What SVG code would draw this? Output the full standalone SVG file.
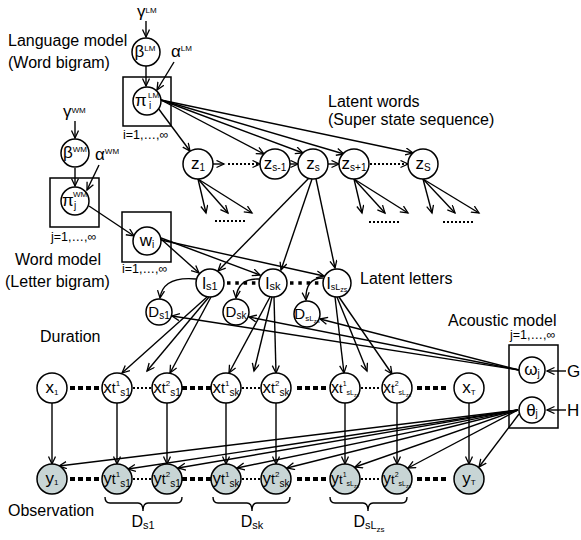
<svg xmlns="http://www.w3.org/2000/svg" width="581" height="540" viewBox="0 0 581 540">
<defs>
<style>
text{font-family:"Liberation Sans",Arial,sans-serif;fill:#000}
.lb{font-size:16px}
.pl{font-size:12.5px}
.n{font-size:17px;text-anchor:middle}
.g{font-size:17px}
.sp{font-size:8px}
.sb{font-size:10px}
.ss{font-size:7px}
.ln{stroke:#000;stroke-width:1.4;fill:none;marker-end:url(#a)}
.pn{stroke:#000;stroke-width:1.4;fill:none}
.nd{fill:#fff;stroke:#000;stroke-width:1.5}
.ob{fill:#c8d5d5;stroke:#000;stroke-width:1.5}
.box{fill:none;stroke:#000;stroke-width:1.5}
.tk{stroke:#000;stroke-width:4;stroke-dasharray:5 3;fill:none}
.tl{stroke:#000;stroke-width:3.5;stroke-dasharray:3.5 4.8;fill:none}
.tn{stroke:#000;stroke-width:2;stroke-dasharray:2 2;fill:none}
.dl{stroke:#000;stroke-width:2;stroke-dasharray:2 2;fill:none;marker-end:url(#a)}
</style>
<marker id="a" markerWidth="10" markerHeight="9" refX="8" refY="4" orient="auto" markerUnits="userSpaceOnUse">
<path d="M0.5,0.5 L8,4 L0.5,7.5" fill="none" stroke="#000" stroke-width="1.3" stroke-dasharray="none"/>
</marker>
</defs>
<rect width="581" height="540" fill="#fff"/>

<g id="labels">
<text class="lb" x="8" y="46">Language model</text>
<text class="lb" x="8" y="68">(Word bigram)</text>
<text class="lb" x="15" y="265">Word model</text>
<text class="lb" x="5" y="287">(Letter bigram)</text>
<text class="lb" x="328" y="107">Latent words</text>
<text class="lb" x="328" y="125">(Super state sequence)</text>
<text class="lb" x="360" y="284">Latent letters</text>
<text class="lb" x="40" y="342">Duration</text>
<text class="lb" x="448" y="326">Acoustic model</text>
<text class="lb" x="8" y="516">Observation</text>
<text class="pl" x="123" y="139">i=1,…,∞</text>
<text class="pl" x="51" y="241">j=1,…,∞</text>
<text class="pl" x="122" y="273">i=1,…,∞</text>
<text class="pl" x="510" y="339">j=1,…,∞</text>
</g>

<g id="plates">
<rect class="box" x="123" y="77" width="48" height="49"/>
<rect class="box" x="50" y="178" width="49" height="49"/>
<rect class="box" x="122" y="212" width="49" height="50"/>
<rect class="box" x="509" y="345" width="49" height="83"/>
</g>

<g id="connectors">
<path class="ln" d="M146,21 L146,37"/>
<path class="ln" d="M146,66 L146,86"/>
<path class="ln" d="M174,62 L157,90"/>
<path class="ln" d="M158,108 L190,151"/>
<path class="ln" d="M161,100 L264,154"/>
<path class="ln" d="M161,100 L303,153"/>
<path class="ln" d="M161,100 L344,154"/>
<path class="ln" d="M161,100 L413,153"/>
<path class="ln" d="M75,121 L75,138"/>
<path class="ln" d="M75,168 L75,186"/>
<path class="ln" d="M99,165 L87,190"/>
<path class="ln" d="M89,206 L134,236"/>
<path class="ln" d="M213,164 L224,164"/>
<path class="dl" d="M228,164 L260,164"/>
<path class="ln" d="M290,164 L298,164"/>
<path class="ln" d="M328,164 L339,164"/>
<path class="dl" d="M370,164 L408,164"/>
<path class="ln" d="M198,179 L206,213"/>
<path class="ln" d="M198,179 L228,213"/>
<path class="ln" d="M198,179 L252,213"/>
<path class="tn" d="M215,221 L246,221"/>
<path class="ln" d="M354,179 L362,213"/>
<path class="ln" d="M354,179 L385,213"/>
<path class="ln" d="M354,179 L408,213"/>
<path class="tn" d="M369,222 L400,222"/>
<path class="ln" d="M423,179 L432,213"/>
<path class="ln" d="M423,179 L455,213"/>
<path class="ln" d="M423,179 L479,213"/>
<path class="tn" d="M443,222 L474,222"/>
<path class="ln" d="M309,178 L218,271"/>
<path class="ln" d="M312,179 L281,270"/>
<path class="ln" d="M316,179 L335,268"/>
<path class="ln" d="M161,239 L199,273"/>
<path class="ln" d="M161,238 L260,275"/>
<path class="ln" d="M161,240 L324,276"/>
<path class="tl" d="M227,283 L258,283"/>
<path class="tl" d="M290,283 L321,283"/>
<path class="ln" d="M196,279 Q163,276 160,298"/>
<path class="ln" d="M259,279 Q238,278 236,298"/>
<path class="ln" d="M323,278 Q305,278 306,300"/>
<path class="ln" d="M519,370 L172,316"/>
<path class="ln" d="M519,370 L249,317"/>
<path class="ln" d="M519,370 L320,319"/>
<path class="ln" d="M207,297 L122,373"/>
<path class="ln" d="M209,297 L147,371"/>
<path class="ln" d="M211,297 L170,373"/>
<path class="ln" d="M270,297 L229,373"/>
<path class="ln" d="M272,297 L254,371"/>
<path class="ln" d="M274,297 L276,373"/>
<path class="ln" d="M335,297 L344,373"/>
<path class="ln" d="M337,297 L367,371"/>
<path class="ln" d="M339,297 L392,374"/>
<path class="tk" d="M70,388 L99,388"/>
<path class="tn" d="M133,388 L151,388"/>
<path class="tk" d="M182,388 L211,388"/>
<path class="tn" d="M242,388 L260,388"/>
<path class="tk" d="M297,388 L326,388"/>
<path class="tn" d="M361,388 L381,388"/>
<path class="tk" d="M417,388 L446,388"/>
<path class="tk" d="M70,479 L99,479"/>
<path class="tn" d="M133,479 L151,479"/>
<path class="tk" d="M182,479 L211,479"/>
<path class="tn" d="M242,479 L260,479"/>
<path class="tk" d="M297,479 L326,479"/>
<path class="tn" d="M361,479 L381,479"/>
<path class="tk" d="M417,479 L446,479"/>
<path class="ln" d="M52,403 L52,464"/>
<path class="ln" d="M117,403 L117,464"/>
<path class="ln" d="M167,403 L167,464"/>
<path class="ln" d="M226,403 L226,464"/>
<path class="ln" d="M276,403 L276,464"/>
<path class="ln" d="M345,403 L345,464"/>
<path class="ln" d="M397,403 L397,464"/>
<path class="ln" d="M469,403 L469,464"/>
<path class="ln" d="M518,410 L59,466"/>
<path class="ln" d="M518,410 L128,469"/>
<path class="ln" d="M518,410 L178,468"/>
<path class="ln" d="M518,410 L237,468"/>
<path class="ln" d="M518,410 L287,468"/>
<path class="ln" d="M518,410 L355,467"/>
<path class="ln" d="M518,410 L408,468"/>
<path class="ln" d="M519,414 L479,467"/>
<path class="ln" d="M566,371 L547,371"/>
<path class="ln" d="M566,410 L547,410"/>
<path class="pn" d="M105,497 Q105,503 110,503 L138,503 Q143,503 143,511 Q143,503 148,503 L177,503 Q182,503 182,497"/>
<path class="pn" d="M213,497 Q213,503 218,503 L247,503 Q252,503 252,511 Q252,503 257,503 L285,503 Q290,503 290,497"/>
<path class="pn" d="M330,497 Q330,503 335,503 L363,503 Q368,503 368,511 Q368,503 373,503 L402,503 Q407,503 407,497"/>
</g>

<g id="n-gammaLM"><text class="g" x="137" y="17">γ<tspan class="sp" dy="-4">LM</tspan></text></g>
<g id="n-betaLM"><circle class="nd" cx="146" cy="52" r="14"/><text class="n" x="145" y="57">β<tspan class="sp" dy="-6">LM</tspan></text></g>
<g id="n-alphaLM"><text class="g" x="171" y="57">α<tspan class="sp" dy="-6">LM</tspan></text></g>
<g id="n-piLM"><circle class="nd" cx="147" cy="101" r="14"/><text class="g" x="135" y="106">π</text><text class="sp" x="148" y="98">LM</text><text class="sb" x="149" y="109">i</text></g>

<g id="n-gammaWM"><text class="g" x="63" y="117">γ<tspan class="sp" dy="-4">WM</tspan></text></g>
<g id="n-betaWM"><circle class="nd" cx="75" cy="153" r="14"/><text class="n" x="75" y="158">β<tspan class="sp" dy="-6">WM</tspan></text></g>
<g id="n-alphaWM"><text class="g" x="95" y="160">α<tspan class="sp" dy="-6">WM</tspan></text></g>
<g id="n-piWM"><circle class="nd" cx="75" cy="201" r="14"/><text class="g" x="62" y="206">π</text><text class="sp" x="73" y="197">WM</text><text class="sb" x="74" y="209">j</text></g>

<g id="n-wi"><circle class="nd" cx="147" cy="241" r="14"/><text class="n" x="147" y="246">w<tspan class="sb" dy="2">i</tspan></text></g>

<g id="n-z1"><circle class="nd" cx="198" cy="164" r="15"/><text class="n" x="198" y="169">z<tspan class="sb" dy="2">1</tspan></text></g>
<g id="n-zsm1"><circle class="nd" cx="275" cy="164" r="15"/><text class="n" x="275" y="169">z<tspan class="sb" dy="2">s-1</tspan></text></g>
<g id="n-zs"><circle class="nd" cx="313" cy="164" r="15"/><text class="n" x="313" y="169">z<tspan class="sb" dy="2">s</tspan></text></g>
<g id="n-zsp1"><circle class="nd" cx="354" cy="164" r="15"/><text class="n" x="354" y="169">z<tspan class="sb" dy="2">s+1</tspan></text></g>
<g id="n-zS"><circle class="nd" cx="423" cy="164" r="15"/><text class="n" x="423" y="169">z<tspan class="sb" dy="2">S</tspan></text></g>

<g id="n-ls1"><circle class="nd" cx="210" cy="283" r="14"/><text class="n" x="210" y="289">l<tspan style="font-size:11px" dy="1">s1</tspan></text></g>
<g id="n-lsk"><circle class="nd" cx="273" cy="283" r="14"/><text class="n" x="273" y="289">l<tspan style="font-size:11px" dy="1">sk</tspan></text></g>
<g id="n-lsL"><circle class="nd" cx="337" cy="283" r="14"/><text class="n" x="337" y="289">l<tspan style="font-size:9px" dy="1">sL</tspan><tspan class="ss" dy="2">zs</tspan></text></g>

<g id="n-Ds1"><circle class="nd" cx="159" cy="312" r="13"/><text class="n" x="159" y="317" style="font-size:15px">D<tspan class="sb" dy="2">s1</tspan></text></g>
<g id="n-Dsk"><circle class="nd" cx="236" cy="312" r="13"/><text class="n" x="236" y="317" style="font-size:15px">D<tspan class="sb" dy="2">sk</tspan></text></g>
<g id="n-DsL"><circle class="nd" cx="307" cy="314" r="13"/><text class="n" x="307" y="319" style="font-size:15px">D<tspan style="font-size:8px" dy="2">sL</tspan><tspan style="font-size:6px" dy="2">zs</tspan></text></g>

<g id="n-x1"><circle class="nd" cx="52" cy="388" r="15"/><text class="n" x="52" y="393">x<tspan class="sp" dy="2">1</tspan></text></g>
<g id="n-xa"><circle class="nd" cx="117" cy="388" r="15"/><text class="n" x="117" y="393">x<tspan style="font-size:14px">t</tspan><tspan class="sp" dy="-7">1</tspan><tspan class="sb" dy="10">s1</tspan></text></g>
<g id="n-xb"><circle class="nd" cx="167" cy="388" r="15"/><text class="n" x="167" y="393">x<tspan style="font-size:14px">t</tspan><tspan class="sp" dy="-7">2</tspan><tspan class="sb" dy="10">s1</tspan></text></g>
<g id="n-xc"><circle class="nd" cx="226" cy="388" r="15"/><text class="n" x="226" y="393">x<tspan style="font-size:14px">t</tspan><tspan class="sp" dy="-7">1</tspan><tspan class="sb" dy="10">sk</tspan></text></g>
<g id="n-xd"><circle class="nd" cx="276" cy="388" r="15"/><text class="n" x="276" y="393">x<tspan style="font-size:14px">t</tspan><tspan class="sp" dy="-7">2</tspan><tspan class="sb" dy="10">sk</tspan></text></g>
<g id="n-xe"><circle class="nd" cx="345" cy="388" r="15"/><text class="n" x="345" y="393" style="font-size:16px">x<tspan style="font-size:13px">t</tspan><tspan style="font-size:7px" dy="-7">1</tspan><tspan style="font-size:7px" dy="9">sL</tspan><tspan style="font-size:5px" dy="2">zs</tspan></text></g>
<g id="n-xf"><circle class="nd" cx="397" cy="388" r="15"/><text class="n" x="397" y="393" style="font-size:16px">x<tspan style="font-size:13px">t</tspan><tspan style="font-size:7px" dy="-7">2</tspan><tspan style="font-size:7px" dy="9">sL</tspan><tspan style="font-size:5px" dy="2">zs</tspan></text></g>
<g id="n-xT"><circle class="nd" cx="469" cy="388" r="15"/><text class="n" x="469" y="393">x<tspan class="sp" dy="2">T</tspan></text></g>

<g id="n-y1"><circle class="ob" cx="52" cy="479" r="15"/><text class="n" x="52" y="484">y<tspan class="sp" dy="1">1</tspan></text></g>
<g id="n-ya"><circle class="ob" cx="117" cy="479" r="15"/><text class="n" x="117" y="484">y<tspan style="font-size:14px">t</tspan><tspan class="sp" dy="-7">1</tspan><tspan class="sb" dy="10">s1</tspan></text></g>
<g id="n-yb"><circle class="ob" cx="167" cy="479" r="15"/><text class="n" x="167" y="484">y<tspan style="font-size:14px">t</tspan><tspan class="sp" dy="-7">2</tspan><tspan class="sb" dy="10">s1</tspan></text></g>
<g id="n-yc"><circle class="ob" cx="226" cy="479" r="15"/><text class="n" x="226" y="484">y<tspan style="font-size:14px">t</tspan><tspan class="sp" dy="-7">1</tspan><tspan class="sb" dy="10">sk</tspan></text></g>
<g id="n-yd"><circle class="ob" cx="276" cy="479" r="15"/><text class="n" x="276" y="484">y<tspan style="font-size:14px">t</tspan><tspan class="sp" dy="-7">2</tspan><tspan class="sb" dy="10">sk</tspan></text></g>
<g id="n-ye"><circle class="ob" cx="345" cy="479" r="15"/><text class="n" x="345" y="484" style="font-size:16px">y<tspan style="font-size:13px">t</tspan><tspan style="font-size:7px" dy="-7">1</tspan><tspan style="font-size:7px" dy="9">sL</tspan><tspan style="font-size:5px" dy="2">zs</tspan></text></g>
<g id="n-yf"><circle class="ob" cx="397" cy="479" r="15"/><text class="n" x="397" y="484" style="font-size:16px">y<tspan style="font-size:13px">t</tspan><tspan style="font-size:7px" dy="-7">2</tspan><tspan style="font-size:7px" dy="9">sL</tspan><tspan style="font-size:5px" dy="2">zs</tspan></text></g>
<g id="n-yT"><circle class="ob" cx="469" cy="479" r="15"/><text class="n" x="469" y="484">y<tspan class="sp" dy="1">T</tspan></text></g>

<g id="n-omega"><circle class="nd" cx="532" cy="370" r="13"/><text class="n" x="532" y="375">ω<tspan class="sb" dy="2">j</tspan></text></g>
<g id="n-theta"><circle class="nd" cx="532" cy="410" r="13"/><text class="n" x="532" y="416">θ<tspan class="sb" dy="1">j</tspan></text></g>
<g id="n-G"><text class="g" x="567" y="377">G</text></g>
<g id="n-H"><text class="g" x="567" y="416">H</text></g>

<g id="n-braces">
<text class="lb" x="143" y="527" text-anchor="middle">D<tspan style="font-size:11px" dy="2">s1</tspan></text>
<text class="lb" x="252" y="527" text-anchor="middle">D<tspan style="font-size:11px" dy="2">sk</tspan></text>
<text class="lb" x="369" y="527" text-anchor="middle">D<tspan style="font-size:11px" dy="2">sL</tspan><tspan style="font-size:8px" dy="3">zs</tspan></text>
</g>
</svg>
